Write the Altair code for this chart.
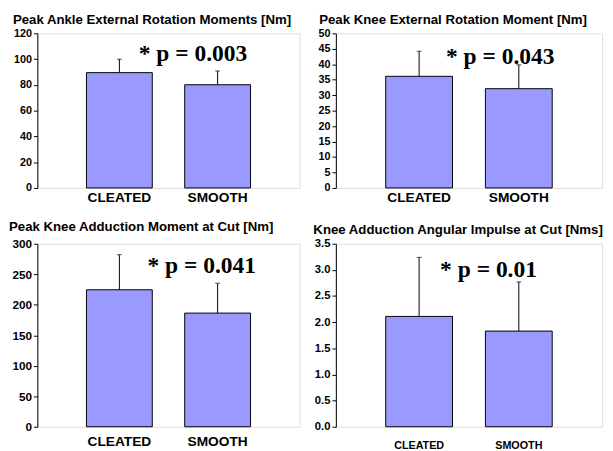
import altair as alt
import pandas as pd

categories = ["CLEATED", "SMOOTH"]

# Panel values (mean, +SD)
ankle_er_mean = [89.5, 80.1]
ankle_er_sd = [10.4, 10.7]
knee_er_mean = [36.1, 32.1]
knee_er_sd = [8.1, 7.7]
knee_add_mean = [224.6, 186.3]
knee_add_sd = [57.4, 49.0]
impulse_mean = [2.11, 1.83]
impulse_sd = [1.13, 0.94]

titles = [
    "Peak Ankle External Rotation Moments [Nm]",
    "Peak Knee External Rotation Moment [Nm]",
    "Peak Knee Adduction Moment at Cut [Nm]",
    "Knee Adduction Angular Impulse at Cut [Nms]",
]
p_labels = ["* p = 0.003", "* p = 0.043", "* p = 0.041", "* p = 0.01"]

SANS = "Liberation Sans"
SERIF = "Liberation Serif"


def panel(means, sds, domain, step, fmt, title, title_dx, title_offset,
          ylab_size, xlab_size, xlab_pad, plabel, px, py, w, h):
    df = pd.DataFrame({"cat": categories, "mean": means, "sd": sds})
    df["top"] = df["mean"] + df["sd"]
    ticks = []
    v = domain[0]
    while v <= domain[1] + 1e-9:
        ticks.append(round(v, 4))
        v += step
    xscale = alt.Scale(paddingInner=0.33, paddingOuter=0.5)
    xaxis = alt.Axis(title=None, labelAngle=0, ticks=False, domain=False,
                     labelFont=SANS, labelFontWeight="bold",
                     labelFontSize=xlab_size, labelColor="black",
                     labelPadding=xlab_pad, labelOverlap=False)
    x = alt.X("cat:N", sort=categories, scale=xscale, axis=xaxis)
    yscale = alt.Scale(domain=domain, nice=False, zero=True)
    yaxis = alt.Axis(title=None, values=ticks, format=fmt, grid=False,
                     domainColor="black", tickColor="black", tickSize=4,
                     labelFont=SANS, labelFontWeight="bold",
                     labelFontSize=ylab_size, labelColor="black",
                     labelPadding=2, labelOverlap=False, labelFlush=False)
    base = alt.Chart(df)
    bars = base.mark_bar(color="#9999FF", stroke="black", strokeWidth=1).encode(
        x=x, y=alt.Y("mean:Q", scale=yscale, axis=yaxis, title=None))
    err = base.mark_rule(color="black", strokeWidth=1).encode(
        x=x, y=alt.Y("mean:Q", scale=yscale, axis=yaxis, title=None),
        y2="top:Q")
    cap = base.mark_tick(color="black", size=5, thickness=1, orient="horizontal").encode(
        x=x, y=alt.Y("top:Q", scale=yscale, axis=yaxis, title=None))
    ann = alt.Chart(pd.DataFrame({"t": [plabel]})).mark_text(
        font=SERIF, fontWeight="bold", fontSize=24, color="black",
        align="center", baseline="alphabetic").encode(
        text="t:N", x=alt.value(px), y=alt.value(py))
    return alt.layer(bars, err, cap, ann).properties(
        width=w, height=h,
        title=alt.TitleParams(title, anchor="start", frame="group", dx=title_dx,
                              offset=title_offset, font=SANS, fontSize=13.5,
                              fontWeight="bold", color="black"))


p1 = panel(ankle_er_mean, ankle_er_sd, [0, 120], 20, "d", titles[0], -25, 1,
           11, 14, 3, p_labels[0], 159, 28, 268, 158)
p2 = panel(knee_er_mean, knee_er_sd, [0, 50], 5, "d", titles[1], -17, 1,
           11, 14, 3, p_labels[1], 168, 31, 272, 158)
p3 = panel(knee_add_mean, knee_add_sd, [0, 300], 50, "d", titles[2], -29, 5,
           12, 14, 8, p_labels[2], 168, 30, 268, 187)
p4 = panel(impulse_mean, impulse_sd, [0, 3.5], 0.5, ".1f", titles[3], -23, 1,
           11.5, 11, 13, p_labels[3], 156, 34, 272, 187)

chart = alt.concat(p1, p2, p3, p4, columns=2, bounds="flush",
                   spacing={"row": 57, "column": 37}).properties(
    padding={"left": 0, "top": 0, "right": 0, "bottom": 0}
).configure_view(stroke="#999999", strokeWidth=1.5).configure(background="white")

chart.save("out.html", embed_options={"renderer": "svg", "actions": False})
